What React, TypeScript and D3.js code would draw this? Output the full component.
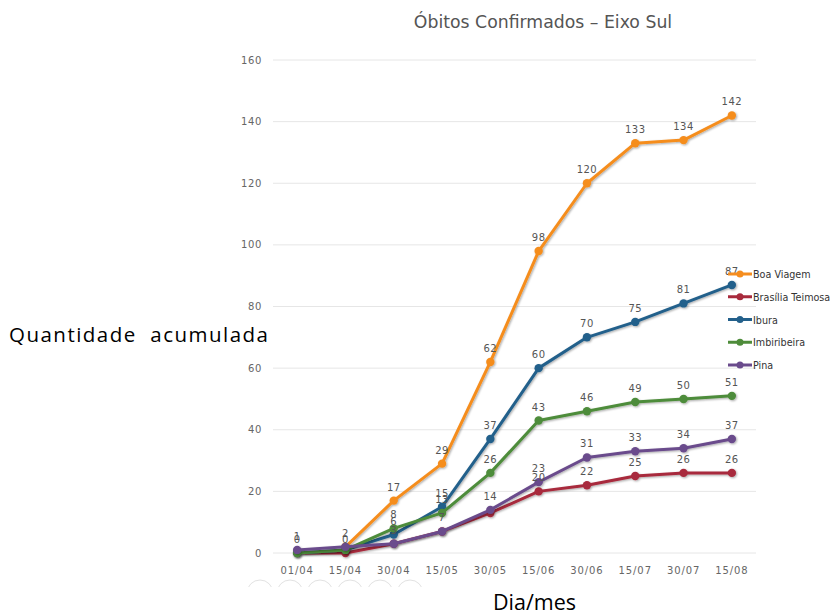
import React from "react";
import * as d3 from "d3";

const categories = ["01/04", "15/04", "30/04", "15/05", "30/05", "15/06", "30/06", "15/07", "30/07", "15/08"];
const boaViagem = [null, 2, 17, 29, 62, 98, 120, 133, 134, 142];
const brasiliaTeimosa = [0, 0, 3, 7, 13, 20, 22, 25, 26, 26];
const ibura = [0, 1, 6, 15, 37, 60, 70, 75, 81, 87];
const imbiribeira = [0, 1, 8, 13, 26, 43, 46, 49, 50, 51];
const pina = [1, 2, 3, 7, 14, 23, 31, 33, 34, 37];
const seriesNames = ["Boa Viagem", "Brasília Teimosa", "Ibura", "Imbiribeira", "Pina"];
const seriesColors = ["#f58d1e", "#a82a3c", "#23608b", "#4e8c3a", "#6a4b8c"];
const yTicks = [0, 20, 40, 60, 80, 100, 120, 140, 160];
// labels hidden by overlap in the original: [seriesIndex, pointIndex]
const hiddenLabels = [[0, 1], [1, 2], [1, 3], [1, 4], [2, 1], [2, 0], [3, 1], [3, 0]];

const allSeries = [boaViagem, brasiliaTeimosa, ibura, imbiribeira, pina];

export default function App() {
  const left = 273, right = 756, top = 60, bottom = 553;
  const x = d3.scaleBand<string>().domain(categories).range([left, right]);
  const y = d3.scaleLinear().domain([0, 160]).range([bottom, top]);
  const cx = (c: string) => (x(c) as number) + x.bandwidth() / 2;
  const line = d3
    .line<number | null>()
    .defined((d) => d !== null)
    .x((_, i) => cx(categories[i]))
    .y((d) => y(d as number));
  const isHidden = (s: number, i: number) => hiddenLabels.some(([a, b]) => a === s && b === i);
  const tickFont = "'DejaVu Sans', sans-serif";
  const legendY = d3.scaleLinear().domain([0, 4]).range([274, 365]);

  return (
    <svg width={832} height={615} style={{ position: "absolute", left: 0, top: 0, background: "#fff" }}>
      <defs>
        <filter id="sh" x="-10%" y="-10%" width="120%" height="130%">
          <feDropShadow dx="1" dy="1" stdDeviation="0.8" floodColor="#000" floodOpacity="0.35" />
        </filter>
        <clipPath id="btnclip">
          <rect x={230} y={575} width={200} height={12} />
        </clipPath>
      </defs>
      <text x={543} y={28} textAnchor="middle" fontFamily={tickFont} fontSize={17.3} fill="#555">
        Óbitos Confirmados – Eixo Sul
      </text>
      {yTicks.map((t) => (
        <g key={t}>
          <line x1={left} x2={right} y1={y(t)} y2={y(t)} stroke="#e6e6e6" strokeWidth={1} />
          <text x={262} y={y(t) + 3.5} textAnchor="end" fontFamily={tickFont} fontSize={10} fill="#666" letterSpacing={0.6}>
            {t}
          </text>
        </g>
      ))}
      {categories.map((c) => (
        <text key={c} x={cx(c)} y={574} textAnchor="middle" fontFamily={tickFont} fontSize={10} fill="#666" letterSpacing={0.9}>
          {c}
        </text>
      ))}
      <g clipPath="url(#btnclip)">
        {[0, 1, 2, 3, 4, 5].map((k) => (
          <circle key={k} cx={260 + k * 30} cy={593} r={13} fill="none" stroke="#e2e2e2" strokeWidth={1} />
        ))}
      </g>
      {allSeries.map((data, s) => (
        <g key={s} filter="url(#sh)">
          <path d={line(data) || ""} fill="none" stroke={seriesColors[s]} strokeWidth={3} strokeLinejoin="round" />
          {data.map((v, i) =>
            v === null ? null : <circle key={i} cx={cx(categories[i])} cy={y(v)} r={4.2} fill={seriesColors[s]} />
          )}
        </g>
      ))}
      {allSeries.map((data, s) => (
        <g key={"l" + s}>
          {data.map((v, i) =>
            v === null || isHidden(s, i) ? null : (
              <text key={i} x={cx(categories[i])} y={y(v) - 10} textAnchor="middle" fontFamily={tickFont} fontSize={10} fill="#555" letterSpacing={0.5}>
                {v}
              </text>
            )
          )}
        </g>
      ))}
      {seriesNames.map((n, i) => (
        <g key={n}>
          <line x1={728} x2={752} y1={legendY(i)} y2={legendY(i)} stroke={seriesColors[i]} strokeWidth={3} />
          <circle cx={740} cy={legendY(i)} r={3.5} fill={seriesColors[i]} />
          <text x={753} y={legendY(i) + 4} fontFamily={tickFont} fontSize={9.6} fill="#333" letterSpacing={0}>
            {n}
          </text>
        </g>
      ))}
      <text x={9} y={342} fontFamily="'Open Sans', sans-serif" fontSize={20.5} fill="#000" xmlSpace="preserve" textLength={259} lengthAdjust="spacing">
        Quantidade  acumulada
      </text>
      <text x={493} y={610} fontFamily="'Open Sans', sans-serif" fontSize={21.5} fill="#000">
        Dia/mes
      </text>
    </svg>
  );
}
